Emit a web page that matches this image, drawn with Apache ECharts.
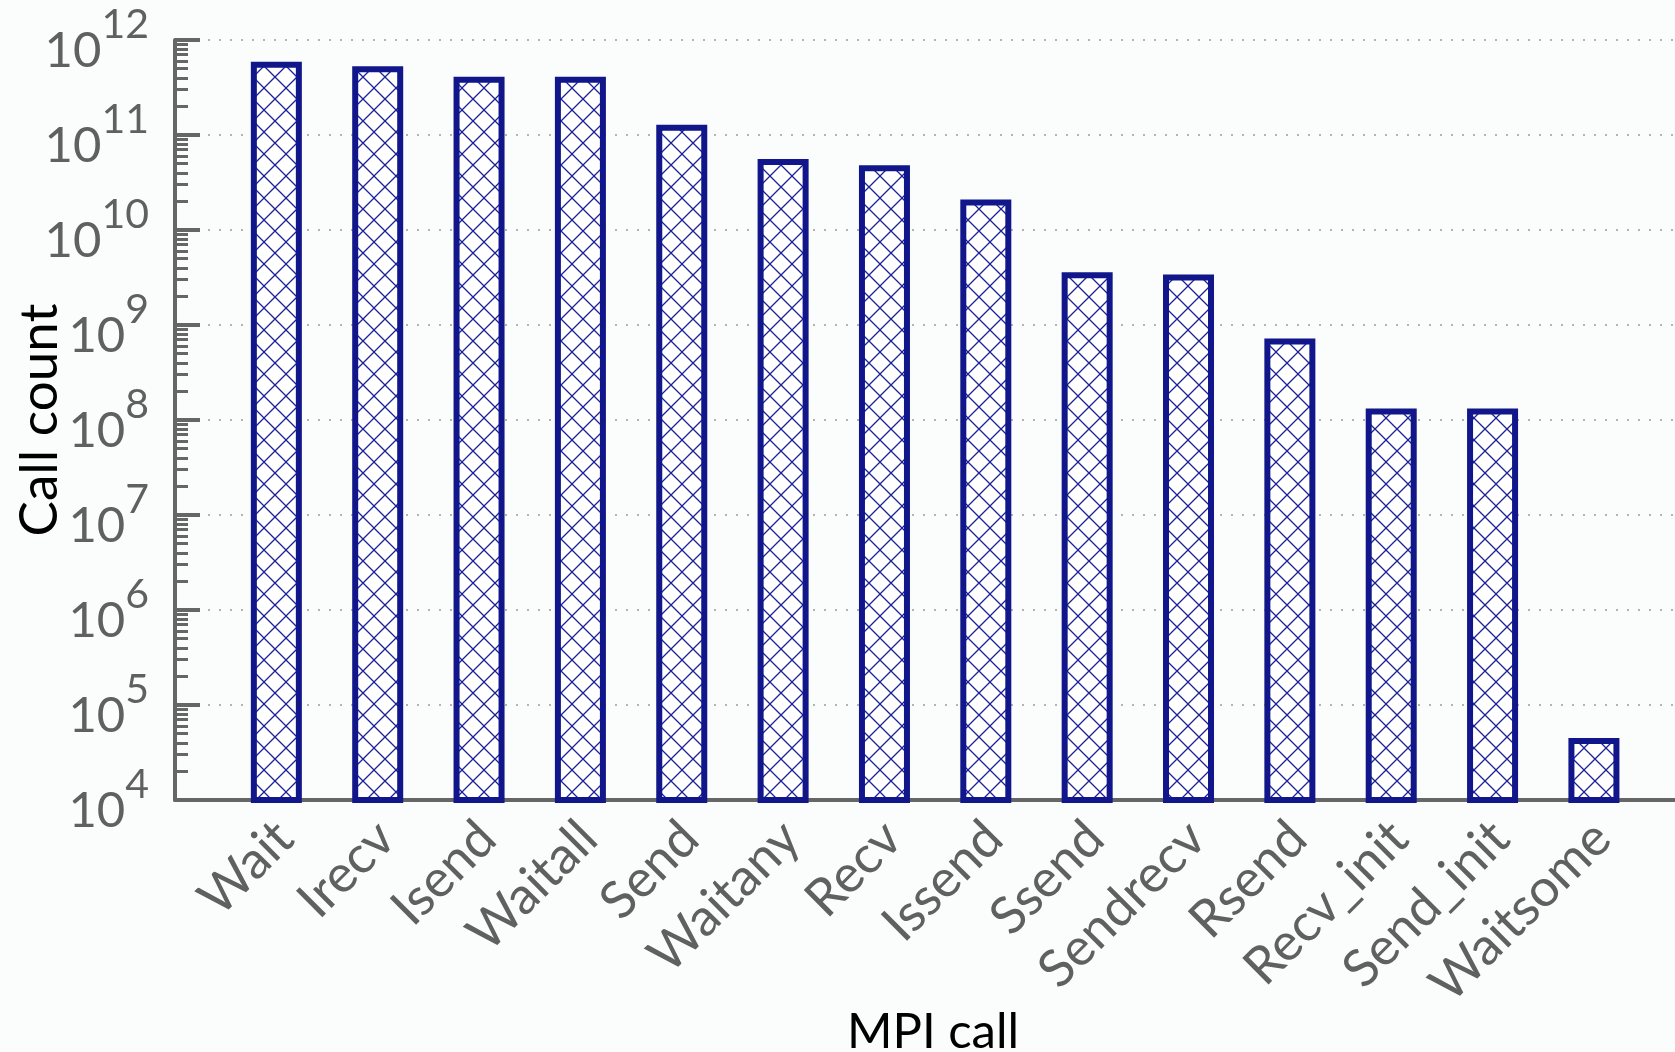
<!DOCTYPE html>
<html>
<head>
<meta charset="utf-8">
<script src="https://cdn.jsdelivr.net/npm/echarts@6/dist/echarts.min.js"></script>
<style>
  html, body { margin: 0; padding: 0; background: #fbfcfc; }
  #chart { width: 1675px; height: 1052px; }
</style>
</head>
<body>
<div id="chart"></div>
<script>
// MPI calls, in descending order of call count
const categories = ['Wait', 'Irecv', 'Isend', 'Waitall', 'Send', 'Waitany', 'Recv',
  'Issend', 'Ssend', 'Sendrecv', 'Rsend', 'Recv_init', 'Send_init', 'Waitsome'];
const callCounts = [5.9e11, 5.3e11, 4.1e11, 4.1e11, 1.28e11, 5.6e10, 4.8e10,
  2.1e10, 3.6e9, 3.4e9, 7.2e8, 1.32e8, 1.32e8, 4.5e4];

// decades shown on the log axis
const decadeExponents = [4, 5, 6, 7, 8, 9, 10, 11, 12];
const minorMultipliers = [2, 3, 4, 5, 6, 7, 8, 9];

const majorTicks = decadeExponents.map(e => Math.pow(10, e));
const minorTicks = [];
decadeExponents.slice(0, -1).forEach(e => {
  minorMultipliers.forEach(m => minorTicks.push(m * Math.pow(10, e)));
});

const NAVY = '#11168a';
const GREY = '#666666';
const TEXT = '#606060';
const FONT = 'Lato, "Open Sans", sans-serif';

// rotated category labels hang slightly right of each bar centre
const LABEL_SHIFT = 0.08;

// cross-hatch fill for the bars
function makeHatch() {
  const s = 22;
  const c = document.createElement('canvas');
  c.width = s; c.height = s;
  const ctx = c.getContext('2d');
  ctx.fillStyle = '#ffffff';
  ctx.fillRect(0, 0, s, s);
  ctx.strokeStyle = '#1b2196';
  ctx.lineWidth = 1.3;
  ctx.beginPath();
  ctx.moveTo(-2, -2); ctx.lineTo(s + 2, s + 2);
  ctx.moveTo(s + 2, -2); ctx.lineTo(-2, s + 2);
  ctx.stroke();
  return c;
}

const chart = echarts.init(document.getElementById('chart'), null, { renderer: 'canvas' });

const barData = callCounts.map((v, i) => [i + 1, v]);

chart.setOption({
  backgroundColor: '#fbfcfc',
  animation: false,
  grid: { left: 175, right: 0, top: 40, bottom: 252, containLabel: false, outerBoundsMode: 'none' },
  xAxis: {
    type: 'value',
    min: 0,
    max: 14.8,
    interval: 1,
    name: 'MPI call',
    nameLocation: 'middle',
    nameGap: 208,
    nameMoveOverlap: false,
    nameTextStyle: { color: '#000', fontSize: 49, fontFamily: FONT, padding: [0, 0, 0, 16] },
    axisLine: { show: true, onZero: false, lineStyle: { color: GREY, width: 4 } },
    axisTick: { show: false },
    splitLine: { show: false },
    axisLabel: {
      customValues: categories.map((c, i) => i + 1 + LABEL_SHIFT),
      rotate: 45,
      margin: 30,
      padding: [36, 0, 0, 0],
      color: TEXT,
      fontSize: 52,
      fontFamily: FONT,
      formatter: v => categories[Math.round(v) - 1] || ''
    }
  },
  yAxis: [
    {
      type: 'log',
      logBase: 10,
      min: 1e4,
      max: 1e12,
      name: 'Call count',
      nameLocation: 'middle',
      nameGap: 109,
      nameMoveOverlap: false,
      nameTextStyle: { color: '#000', fontSize: 53, fontFamily: FONT },
      axisLine: { show: true, lineStyle: { color: GREY, width: 4 } },
      axisTick: {
        show: true, inside: true, length: 25,
        customValues: majorTicks,
        lineStyle: { color: GREY, width: 4 }
      },
      splitLine: {
        show: true,
        lineStyle: { color: '#9a9a9a', width: 1.5, type: [2, 9] }
      },
      axisLabel: {
        customValues: majorTicks,
        margin: 26,
        formatter: v => '{b|10}{s|' + Math.round(Math.log10(v)) + '}{sp|\u200b}',
        rich: {
          b: { fontSize: 49, lineHeight: 50, fontFamily: FONT, color: TEXT, verticalAlign: 'bottom' },
          s: { fontSize: 41, lineHeight: 41, fontFamily: FONT, color: TEXT, verticalAlign: 'top' },
          sp: { fontSize: 10, lineHeight: 72, width: 0 }
        }
      }
    },
    {
      // minor ticks at 2..9 x 10^n
      type: 'log',
      logBase: 10,
      min: 1e4,
      max: 1e12,
      position: 'left',
      axisLine: { show: false },
      splitLine: { show: false },
      axisLabel: { show: false },
      axisTick: {
        show: true, inside: true, length: 13,
        customValues: minorTicks,
        lineStyle: { color: GREY, width: 3 }
      }
    }
  ],
  series: [{
    type: 'bar',
    data: barData,
    barWidth: 51,
    clip: true,
    itemStyle: {
      color: { image: makeHatch(), repeat: 'repeat' },
      borderColor: NAVY,
      borderWidth: 6
    }
  }]
});
</script>
</body>
</html>
